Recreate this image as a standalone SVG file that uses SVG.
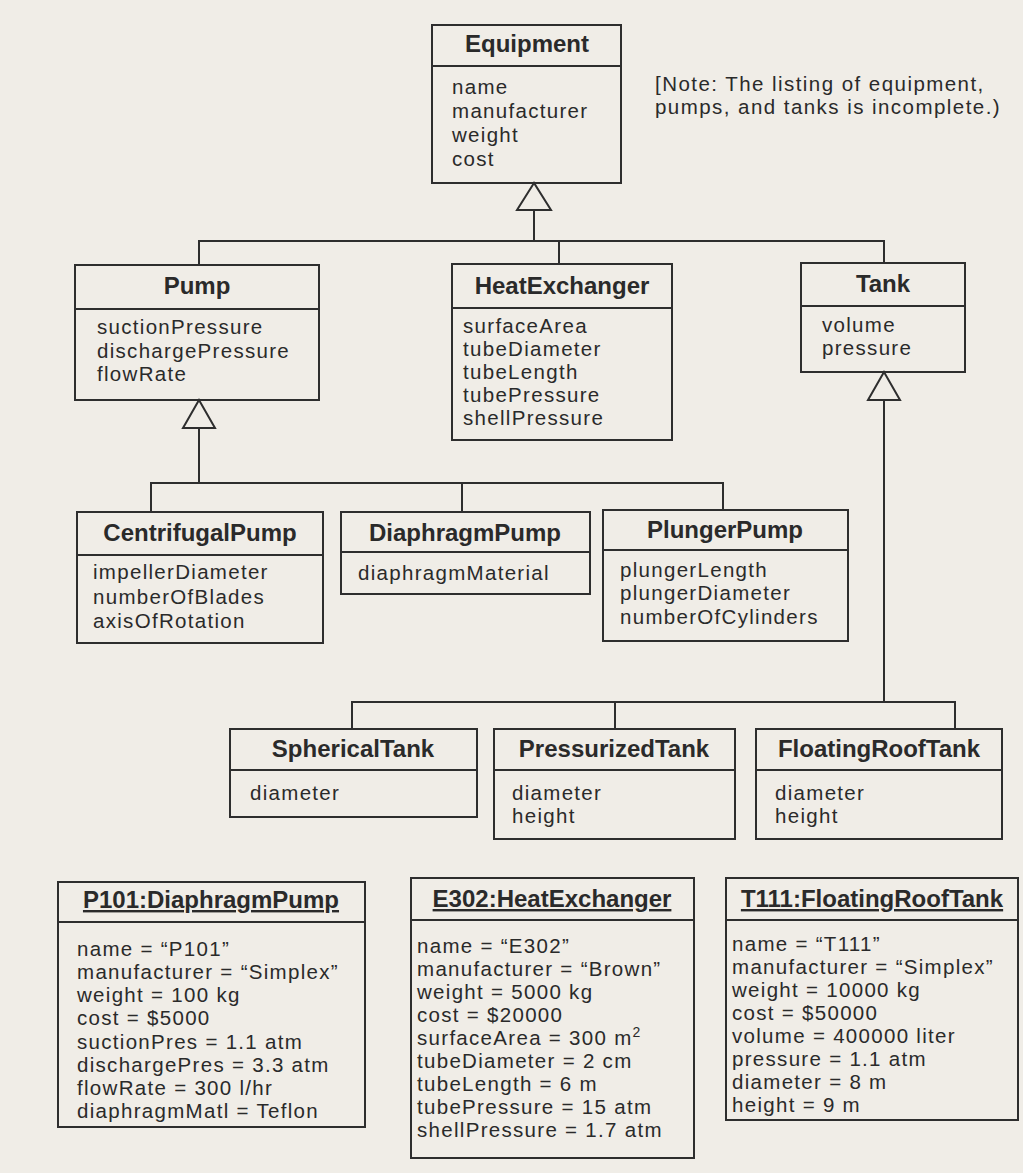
<svg xmlns="http://www.w3.org/2000/svg" width="1023" height="1173" viewBox="0 0 1023 1173">
<style>
.box{fill:none;stroke:#2e2e2e;stroke-width:2}
.ln{fill:none;stroke:#2e2e2e;stroke-width:2}
.tri{fill:#f0ede7;stroke:#2e2e2e;stroke-width:2}
text{font-family:"Liberation Sans",Arial,sans-serif;fill:#2a2a2a}
.t{font-size:24px;font-weight:bold;text-anchor:middle}
.a{font-size:20.5px;letter-spacing:1.3px}
.n{font-size:20.5px;letter-spacing:1.45px}
.u{text-decoration:underline}
</style>
<rect width="1023" height="1173" fill="#f0ede7"/>
<g id="connectors">
<polyline class="ln" points="534,210 534,241"/>
<polyline class="ln" points="199,265 199,241 884,241 884,263"/>
<polyline class="ln" points="559,241 559,264"/>
<polygon class="tri" points="534,183 517,210 551,210"/>
<polyline class="ln" points="199,428 199,483"/>
<polyline class="ln" points="151,512 151,483 723,483 723,510"/>
<polyline class="ln" points="462,483 462,512"/>
<polygon class="tri" points="199,400 183,428 215,428"/>
<polyline class="ln" points="884,400 884,702"/>
<polyline class="ln" points="352,729 352,702 955,702 955,729"/>
<polyline class="ln" points="615,702 615,729"/>
<polygon class="tri" points="884,372 868,400 900,400"/>
</g>
<g id="Equipment">
<rect class="box" x="432" y="25" width="189" height="158"/>
<line class="ln" x1="432" y1="66" x2="621" y2="66"/>
<text class="t" x="527" y="52">Equipment</text>
<text class="a" x="452" y="94">name</text>
<text class="a" x="452" y="118">manufacturer</text>
<text class="a" x="452" y="142">weight</text>
<text class="a" x="452" y="166">cost</text>
</g>
<g id="note">
<text class="n" x="655" y="91">[Note: The listing of equipment,</text>
<text class="n" x="655" y="114">pumps, and tanks is incomplete.)</text>
</g>
<g id="Pump">
<rect class="box" x="75" y="265" width="244" height="135"/>
<line class="ln" x1="75" y1="309" x2="319" y2="309"/>
<text class="t" x="197" y="294">Pump</text>
<text class="a" x="97" y="334">suctionPressure</text>
<text class="a" x="97" y="358">dischargePressure</text>
<text class="a" x="97" y="381">flowRate</text>
</g>
<g id="HeatExchanger">
<rect class="box" x="452" y="264" width="220" height="176"/>
<line class="ln" x1="452" y1="308" x2="672" y2="308"/>
<text class="t" x="562" y="294">HeatExchanger</text>
<text class="a" x="463" y="333">surfaceArea</text>
<text class="a" x="463" y="356">tubeDiameter</text>
<text class="a" x="463" y="379">tubeLength</text>
<text class="a" x="463" y="402">tubePressure</text>
<text class="a" x="463" y="425">shellPressure</text>
</g>
<g id="Tank">
<rect class="box" x="801" y="263" width="164" height="109"/>
<line class="ln" x1="801" y1="306" x2="965" y2="306"/>
<text class="t" x="883" y="292">Tank</text>
<text class="a" x="822" y="332">volume</text>
<text class="a" x="822" y="355">pressure</text>
</g>
<g id="CentrifugalPump">
<rect class="box" x="77" y="512" width="246" height="131"/>
<line class="ln" x1="77" y1="555" x2="323" y2="555"/>
<text class="t" x="200" y="541">CentrifugalPump</text>
<text class="a" x="93" y="579">impellerDiameter</text>
<text class="a" x="93" y="604">numberOfBlades</text>
<text class="a" x="93" y="628">axisOfRotation</text>
</g>
<g id="DiaphragmPump">
<rect class="box" x="341" y="512" width="249" height="82"/>
<line class="ln" x1="341" y1="552" x2="590" y2="552"/>
<text class="t" x="465" y="541">DiaphragmPump</text>
<text class="a" x="358" y="580">diaphragmMaterial</text>
</g>
<g id="PlungerPump">
<rect class="box" x="603" y="510" width="245" height="131"/>
<line class="ln" x1="603" y1="550" x2="848" y2="550"/>
<text class="t" x="725" y="538">PlungerPump</text>
<text class="a" x="620" y="577">plungerLength</text>
<text class="a" x="620" y="600">plungerDiameter</text>
<text class="a" x="620" y="624">numberOfCylinders</text>
</g>
<g id="SphericalTank">
<rect class="box" x="230" y="729" width="247" height="88"/>
<line class="ln" x1="230" y1="770" x2="477" y2="770"/>
<text class="t" x="353" y="757">SphericalTank</text>
<text class="a" x="250" y="800">diameter</text>
</g>
<g id="PressurizedTank">
<rect class="box" x="494" y="729" width="241" height="110"/>
<line class="ln" x1="494" y1="770" x2="735" y2="770"/>
<text class="t" x="614" y="757">PressurizedTank</text>
<text class="a" x="512" y="800">diameter</text>
<text class="a" x="512" y="823">height</text>
</g>
<g id="FloatingRoofTank">
<rect class="box" x="756" y="729" width="246" height="110"/>
<line class="ln" x1="756" y1="770" x2="1002" y2="770"/>
<text class="t" x="879" y="757">FloatingRoofTank</text>
<text class="a" x="775" y="800">diameter</text>
<text class="a" x="775" y="823">height</text>
</g>
<g id="P101">
<rect class="box" x="58" y="882" width="307" height="245"/>
<line class="ln" x1="58" y1="922" x2="365" y2="922"/>
<text class="t u" x="211" y="908">P101:DiaphragmPump</text>
<text class="a" x="77" y="956">name = “P101”</text>
<text class="a" x="77" y="979">manufacturer = “Simplex”</text>
<text class="a" x="77" y="1002">weight = 100 kg</text>
<text class="a" x="77" y="1025">cost = $5000</text>
<text class="a" x="77" y="1049">suctionPres = 1.1 atm</text>
<text class="a" x="77" y="1072">dischargePres = 3.3 atm</text>
<text class="a" x="77" y="1095">flowRate = 300 l/hr</text>
<text class="a" x="77" y="1118">diaphragmMatl = Teflon</text>
</g>
<g id="E302">
<rect class="box" x="411" y="878" width="283" height="280"/>
<line class="ln" x1="411" y1="920" x2="694" y2="920"/>
<text class="t u" x="552" y="907">E302:HeatExchanger</text>
<text class="a" x="417" y="953">name = “E302”</text>
<text class="a" x="417" y="976">manufacturer = “Brown”</text>
<text class="a" x="417" y="999">weight = 5000 kg</text>
<text class="a" x="417" y="1022">cost = $20000</text>
<text class="a" x="417" y="1045">surfaceArea = 300 m<tspan font-size="14" dy="-8">2</tspan></text>
<text class="a" x="417" y="1068">tubeDiameter = 2 cm</text>
<text class="a" x="417" y="1091">tubeLength = 6 m</text>
<text class="a" x="417" y="1114">tubePressure = 15 atm</text>
<text class="a" x="417" y="1137">shellPressure = 1.7 atm</text>
</g>
<g id="T111">
<rect class="box" x="726" y="878" width="292" height="242"/>
<line class="ln" x1="726" y1="920" x2="1018" y2="920"/>
<text class="t u" x="872" y="907">T111:FloatingRoofTank</text>
<text class="a" x="732" y="951">name = “T111”</text>
<text class="a" x="732" y="974">manufacturer = “Simplex”</text>
<text class="a" x="732" y="997">weight = 10000 kg</text>
<text class="a" x="732" y="1020">cost = $50000</text>
<text class="a" x="732" y="1043">volume = 400000 liter</text>
<text class="a" x="732" y="1066">pressure = 1.1 atm</text>
<text class="a" x="732" y="1089">diameter = 8 m</text>
<text class="a" x="732" y="1112">height = 9 m</text>
</g>
</svg>
